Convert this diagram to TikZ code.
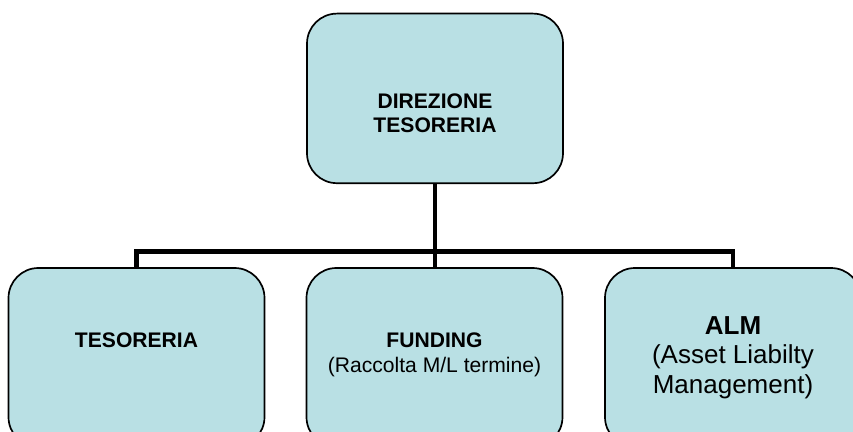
\documentclass[tikz,border=0pt]{standalone}
\usepackage{fontspec}
\setmainfont{Liberation Sans}
\definecolor{boxfill}{RGB}{185,224,228}

\begin{document}
\begin{tikzpicture}[
    box/.style={draw, line width=1.2pt, fill=boxfill, rounded corners=0.75cm,
      minimum width=6.4cm, inner sep=0pt},
    lbl/.style={align=center, font=\fontsize{15}{18}\selectfont},
    conn/.style={line width=3.5pt, line join=miter}
  ]

  % Area visibile
  \useasboundingbox (0,0) rectangle (21.325,10.8);
  \clip (0,0) rectangle (21.325,10.8);

  %-------------------------------------
  % Riquadri
  %-------------------------------------
  \def\ybox{1.8625} % centro dei riquadri in basso
  \node[box, minimum height=4.24cm] (dir) at (10.875,8.34) {};
  \node[box, minimum height=4.475cm] (tes) at (3.4125,\ybox) {};
  \node[box, minimum height=4.475cm] (fun) at (10.8625,\ybox) {};
  \node[box, minimum height=4.475cm] (alm) at (18.325,\ybox) {};

  % Testi
  \node[lbl, font=\fontsize{15}{17}\selectfont\bfseries] (dirtxt)
    at ([yshift=-0.365cm]dir.center) {DIREZIONE\\TESORERIA};
  \node[lbl, font=\fontsize{15}{17}\selectfont\bfseries] (testxt)
    at ([yshift=0.44cm]tes.center) {TESORERIA};
  \node[lbl] (funtxt)
    at ([yshift=0.06cm]fun.center) {\textbf{FUNDING}\\(Raccolta M/L termine)};
  \node[lbl, font=\fontsize{18.5}{21}\selectfont] (almtxt)
    at (alm.center) {\textbf{ALM}\\(Asset Liabilty\\Management)};

  %-------------------------------------
  % Collegamenti
  %-------------------------------------
  \draw[conn] (tes.north) -- ++(0,0.4) -| (alm.north);
  \draw[conn] (dir.south) -- (dir.south |- fun.north);

\end{tikzpicture}
\end{document}
